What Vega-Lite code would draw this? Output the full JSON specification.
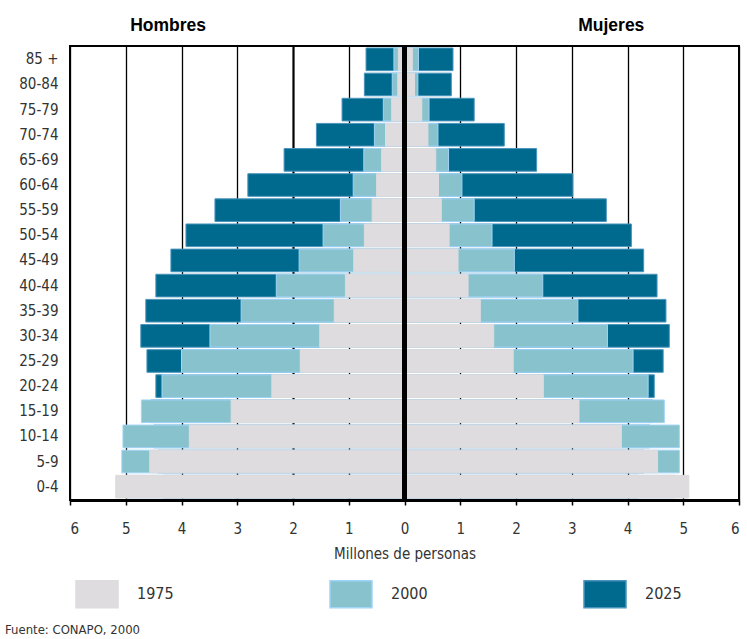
{
  "$schema": "https://vega.github.io/schema/vega-lite/v6.json",
  "width": 669,
  "height": 454,
  "autosize": {"type": "none"},
  "padding": {"left": 70, "top": 46, "right": 8, "bottom": 139},
  "background": "white",
  "config": {
    "font": "'Liberation Sans Narrow', 'DejaVu Sans Condensed', sans-serif",
    "view": {"stroke": "black", "strokeWidth": 2}
  },
  "title": {
    "text": "Fuente: CONAPO, 2000",
    "orient": "bottom",
    "anchor": "start",
    "frame": "group",
    "fontSize": 13,
    "fontWeight": "normal",
    "color": "#333",
    "dx": -65,
    "offset": 13
  },
  "datasets": {
    "pop": [
      {"g": "85 +", "s": "H", "a": "2025", "v": -0.69}, {"g": "80-84", "s": "H", "a": "2025", "v": -0.72},
      {"g": "75-79", "s": "H", "a": "2025", "v": -1.12}, {"g": "70-74", "s": "H", "a": "2025", "v": -1.58},
      {"g": "65-69", "s": "H", "a": "2025", "v": -2.16}, {"g": "60-64", "s": "H", "a": "2025", "v": -2.81},
      {"g": "55-59", "s": "H", "a": "2025", "v": -3.40}, {"g": "50-54", "s": "H", "a": "2025", "v": -3.92},
      {"g": "45-49", "s": "H", "a": "2025", "v": -4.19}, {"g": "40-44", "s": "H", "a": "2025", "v": -4.46},
      {"g": "35-39", "s": "H", "a": "2025", "v": -4.64}, {"g": "30-34", "s": "H", "a": "2025", "v": -4.73},
      {"g": "25-29", "s": "H", "a": "2025", "v": -4.62}, {"g": "20-24", "s": "H", "a": "2025", "v": -4.46},
      {"g": "15-19", "s": "H", "a": "2025", "v": -4.55}, {"g": "10-14", "s": "H", "a": "2025", "v": -4.50},
      {"g": "5-9", "s": "H", "a": "2025", "v": -4.42}, {"g": "0-4", "s": "H", "a": "2025", "v": -4.33},
      {"g": "85 +", "s": "M", "a": "2025", "v": 0.87}, {"g": "80-84", "s": "M", "a": "2025", "v": 0.84},
      {"g": "75-79", "s": "M", "a": "2025", "v": 1.25}, {"g": "70-74", "s": "M", "a": "2025", "v": 1.79},
      {"g": "65-69", "s": "M", "a": "2025", "v": 2.37}, {"g": "60-64", "s": "M", "a": "2025", "v": 3.02},
      {"g": "55-59", "s": "M", "a": "2025", "v": 3.62}, {"g": "50-54", "s": "M", "a": "2025", "v": 4.07},
      {"g": "45-49", "s": "M", "a": "2025", "v": 4.29}, {"g": "40-44", "s": "M", "a": "2025", "v": 4.53},
      {"g": "35-39", "s": "M", "a": "2025", "v": 4.69}, {"g": "30-34", "s": "M", "a": "2025", "v": 4.75},
      {"g": "25-29", "s": "M", "a": "2025", "v": 4.64}, {"g": "20-24", "s": "M", "a": "2025", "v": 4.48},
      {"g": "15-19", "s": "M", "a": "2025", "v": 4.45}, {"g": "10-14", "s": "M", "a": "2025", "v": 4.40},
      {"g": "5-9", "s": "M", "a": "2025", "v": 4.30}, {"g": "0-4", "s": "M", "a": "2025", "v": 4.20},

      {"g": "85 +", "s": "H", "a": "2000", "v": -0.19}, {"g": "80-84", "s": "H", "a": "2000", "v": -0.22},
      {"g": "75-79", "s": "H", "a": "2000", "v": -0.38}, {"g": "70-74", "s": "H", "a": "2000", "v": -0.54},
      {"g": "65-69", "s": "H", "a": "2000", "v": -0.73}, {"g": "60-64", "s": "H", "a": "2000", "v": -0.92},
      {"g": "55-59", "s": "H", "a": "2000", "v": -1.15}, {"g": "50-54", "s": "H", "a": "2000", "v": -1.46},
      {"g": "45-49", "s": "H", "a": "2000", "v": -1.89}, {"g": "40-44", "s": "H", "a": "2000", "v": -2.30},
      {"g": "35-39", "s": "H", "a": "2000", "v": -2.93}, {"g": "30-34", "s": "H", "a": "2000", "v": -3.49},
      {"g": "25-29", "s": "H", "a": "2000", "v": -4.00}, {"g": "20-24", "s": "H", "a": "2000", "v": -4.35},
      {"g": "15-19", "s": "H", "a": "2000", "v": -4.72}, {"g": "10-14", "s": "H", "a": "2000", "v": -5.05},
      {"g": "5-9", "s": "H", "a": "2000", "v": -5.07}, {"g": "0-4", "s": "H", "a": "2000", "v": -5.00},
      {"g": "85 +", "s": "M", "a": "2000", "v": 0.25}, {"g": "80-84", "s": "M", "a": "2000", "v": 0.24},
      {"g": "75-79", "s": "M", "a": "2000", "v": 0.44}, {"g": "70-74", "s": "M", "a": "2000", "v": 0.60},
      {"g": "65-69", "s": "M", "a": "2000", "v": 0.79}, {"g": "60-64", "s": "M", "a": "2000", "v": 1.03},
      {"g": "55-59", "s": "M", "a": "2000", "v": 1.25}, {"g": "50-54", "s": "M", "a": "2000", "v": 1.57},
      {"g": "45-49", "s": "M", "a": "2000", "v": 1.97}, {"g": "40-44", "s": "M", "a": "2000", "v": 2.48},
      {"g": "35-39", "s": "M", "a": "2000", "v": 3.11}, {"g": "30-34", "s": "M", "a": "2000", "v": 3.64},
      {"g": "25-29", "s": "M", "a": "2000", "v": 4.10}, {"g": "20-24", "s": "M", "a": "2000", "v": 4.37},
      {"g": "15-19", "s": "M", "a": "2000", "v": 4.66}, {"g": "10-14", "s": "M", "a": "2000", "v": 4.93},
      {"g": "5-9", "s": "M", "a": "2000", "v": 4.93}, {"g": "0-4", "s": "M", "a": "2000", "v": 4.85},

      {"g": "85 +", "s": "H", "a": "1975", "v": -0.11}, {"g": "80-84", "s": "H", "a": "1975", "v": -0.12},
      {"g": "75-79", "s": "H", "a": "1975", "v": -0.23}, {"g": "70-74", "s": "H", "a": "1975", "v": -0.34},
      {"g": "65-69", "s": "H", "a": "1975", "v": -0.41}, {"g": "60-64", "s": "H", "a": "1975", "v": -0.50},
      {"g": "55-59", "s": "H", "a": "1975", "v": -0.58}, {"g": "50-54", "s": "H", "a": "1975", "v": -0.72},
      {"g": "45-49", "s": "H", "a": "1975", "v": -0.91}, {"g": "40-44", "s": "H", "a": "1975", "v": -1.06},
      {"g": "35-39", "s": "H", "a": "1975", "v": -1.26}, {"g": "30-34", "s": "H", "a": "1975", "v": -1.52},
      {"g": "25-29", "s": "H", "a": "1975", "v": -1.87}, {"g": "20-24", "s": "H", "a": "1975", "v": -2.38},
      {"g": "15-19", "s": "H", "a": "1975", "v": -3.11}, {"g": "10-14", "s": "H", "a": "1975", "v": -3.86},
      {"g": "5-9", "s": "H", "a": "1975", "v": -4.57}, {"g": "0-4", "s": "H", "a": "1975", "v": -5.18},
      {"g": "85 +", "s": "M", "a": "1975", "v": 0.14}, {"g": "80-84", "s": "M", "a": "1975", "v": 0.18},
      {"g": "75-79", "s": "M", "a": "1975", "v": 0.31}, {"g": "70-74", "s": "M", "a": "1975", "v": 0.42},
      {"g": "65-69", "s": "M", "a": "1975", "v": 0.56}, {"g": "60-64", "s": "M", "a": "1975", "v": 0.61},
      {"g": "55-59", "s": "M", "a": "1975", "v": 0.66}, {"g": "50-54", "s": "M", "a": "1975", "v": 0.80},
      {"g": "45-49", "s": "M", "a": "1975", "v": 0.96}, {"g": "40-44", "s": "M", "a": "1975", "v": 1.14},
      {"g": "35-39", "s": "M", "a": "1975", "v": 1.36}, {"g": "30-34", "s": "M", "a": "1975", "v": 1.60},
      {"g": "25-29", "s": "M", "a": "1975", "v": 1.95}, {"g": "20-24", "s": "M", "a": "1975", "v": 2.49},
      {"g": "15-19", "s": "M", "a": "1975", "v": 3.13}, {"g": "10-14", "s": "M", "a": "1975", "v": 3.89},
      {"g": "5-9", "s": "M", "a": "1975", "v": 4.54}, {"g": "0-4", "s": "M", "a": "1975", "v": 5.10}
    ]
  },
  "layer": [
    {
      "data": {"name": "pop"},
      "mark": {"type": "bar", "strokeWidth": 1},
      "encoding": {
        "x": {
          "field": "v",
          "type": "quantitative",
          "stack": null,
          "scale": {"domain": [-6, 6], "nice": false, "zero": false},
          "axis": {
            "orient": "bottom",
            "values": [-6, -5, -4, -3, -2, -1, 0, 1, 2, 3, 4, 5, 6],
            "labelExpr": "abs(datum.value)",
            "grid": true,
            "gridColor": "black",
            "gridWidth": {"condition": {"test": "datum.value == -2", "value": 2.2}, "value": 1.3},
            "gridOpacity": 1,
            "domainColor": "black",
            "domainWidth": 3,
            "tickColor": "black",
            "tickSize": 5,
            "tickWidth": 1.5,
            "labelFontSize": 15,
            "labelColor": "#333",
            "labelPadding": 16,
            "title": "Millones de personas",
            "titleFontSize": 15,
            "titleFontWeight": "normal",
            "titleColor": "#333",
            "titlePadding": 10
          }
        },
        "y": {
          "field": "g",
          "type": "nominal",
          "sort": ["85 +", "80-84", "75-79", "70-74", "65-69", "60-64", "55-59", "50-54", "45-49", "40-44", "35-39", "30-34", "25-29", "20-24", "15-19", "10-14", "5-9", "0-4"],
          "scale": {"paddingInner": 0.1, "paddingOuter": 0.08},
          "axis": {"title": null, "ticks": false, "domain": false, "labelPadding": 12, "labelFontSize": 15, "labelColor": "#333"}
        },
        "fill": {
          "field": "a",
          "type": "nominal",
          "scale": {"domain": ["1975", "2000", "2025"], "range": ["#dedcde", "#87c2cd", "#006a8e"]},
          "legend": {
            "title": null,
            "orient": "none",
            "legendX": 5,
            "legendY": 526,
            "direction": "horizontal",
            "columns": 3,
            "symbolType": "M-1,-0.643L1,-0.643L1,0.643L-1,0.643Z",
            "symbolSize": 1764,
            "symbolStrokeWidth": 1.5,
            "labelFontSize": 16,
            "labelOffset": 18,
            "labelColor": "#333",
            "columnPadding": 153
          }
        },
        "stroke": {
          "field": "a",
          "type": "nominal",
          "scale": {"domain": ["1975", "2000", "2025"], "range": ["#dedcde", "#a0d4f8", "#4a94bc"]},
          "legend": {
            "title": null,
            "orient": "none",
            "legendX": 5,
            "legendY": 526,
            "direction": "horizontal",
            "columns": 3,
            "symbolType": "M-1,-0.643L1,-0.643L1,0.643L-1,0.643Z",
            "symbolSize": 1764,
            "symbolStrokeWidth": 1.5,
            "labelFontSize": 16,
            "labelOffset": 18,
            "labelColor": "#333",
            "columnPadding": 153
          }
        }
      }
    },
    {
      "data": {"values": [{"z": 0}]},
      "mark": {"type": "rule", "strokeWidth": 5, "color": "black"},
      "encoding": {
        "x": {"field": "z", "type": "quantitative", "scale": {"domain": [-6, 6], "nice": false, "zero": false}, "axis": null}
      }
    },
    {
      "data": {"values": [{"t": "Hombres", "p": -4.25}, {"t": "Mujeres", "p": 3.7}]},
      "mark": {"type": "rule", "opacity": 0},
      "encoding": {
        "x": {
          "field": "p",
          "type": "quantitative",
          "scale": {"domain": [-6, 6], "nice": false, "zero": false},
          "axis": {
            "orient": "top",
            "values": [-4.25, 3.7],
            "labelExpr": "datum.value < 0 ? 'Hombres' : 'Mujeres'",
            "ticks": false,
            "domain": false,
            "grid": false,
            "labelFont": "Liberation Sans",
            "labelFontWeight": "bold",
            "labelFontSize": 17.5,
            "labelColor": "black",
            "labelPadding": 12,
            "title": null
          }
        }
      }
    }
  ],
  "resolve": {"scale": {"x": "independent"}}
}
